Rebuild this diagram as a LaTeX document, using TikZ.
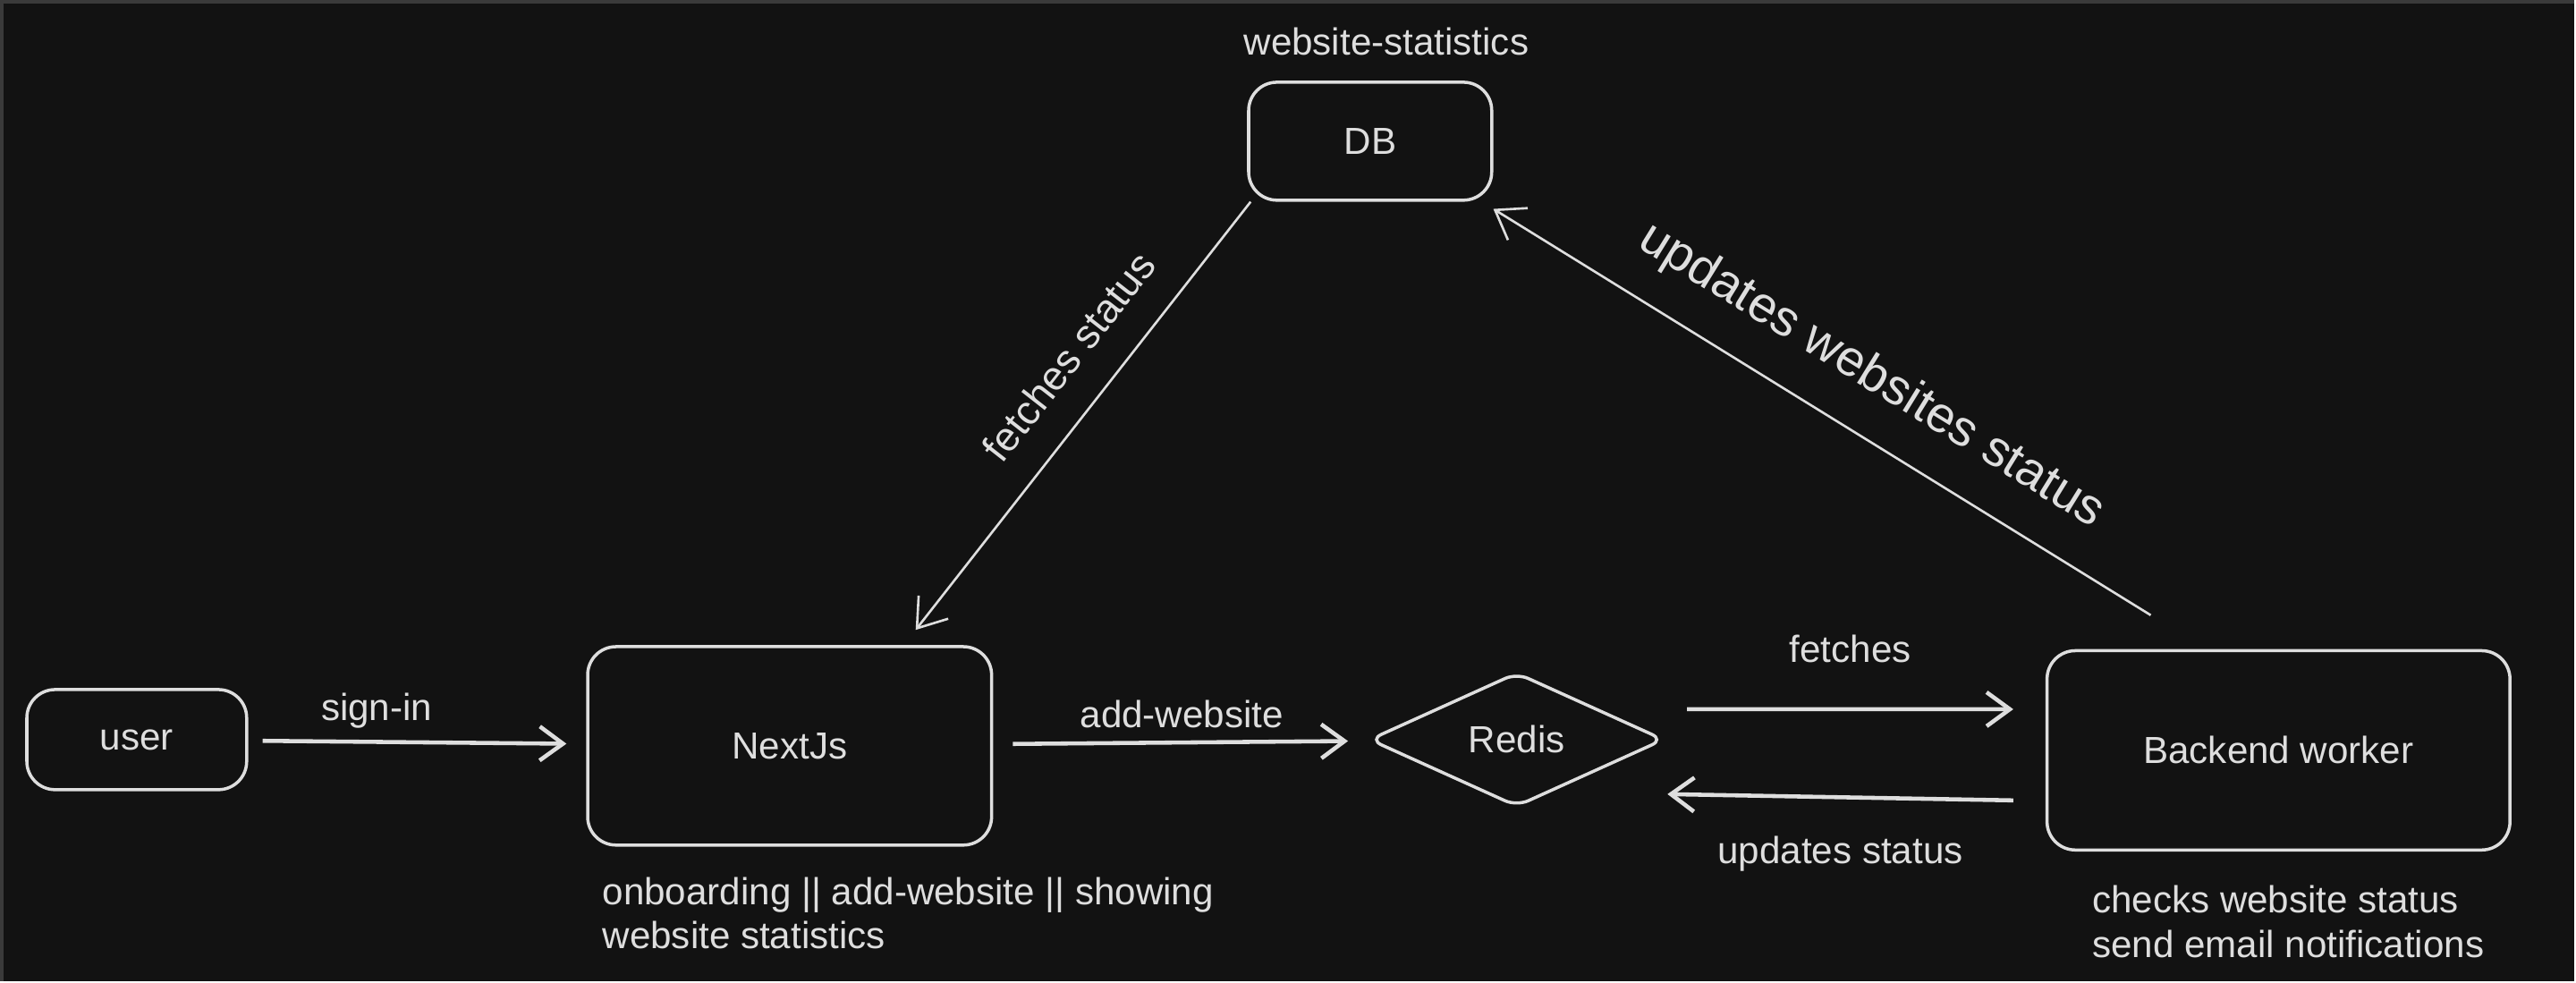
\documentclass[tikz,border=0pt]{standalone}
\usepackage{fontspec}
\setmainfont{Liberation Sans}
\usetikzlibrary{positioning,shapes.geometric,arrows.meta}

\definecolor{bg}{HTML}{121212}
\definecolor{ink}{HTML}{DEDEDE}
\definecolor{edge}{HTML}{3A3A3A}
\newcommand{\lblfont}{\fontsize{12}{14}\selectfont}

\begin{document}
\begin{tikzpicture}[x=0.01cm,y=-0.01cm,
  every node/.style={text=ink,font=\lblfont},
  box/.style={draw=ink,line width=1pt,rounded corners=9pt,inner sep=0pt},
  cache/.style={diamond,draw=ink,line width=1pt,rounded corners=4pt,inner sep=0pt},
  arr/.style={draw=ink,line width=1.3pt,-{Straight Barb[length=0.26cm,width=0.38cm]}},
  slant/.style={draw=ink,line width=0.75pt,-{Straight Barb[length=0.3cm,width=0.42cm]}}]

% canvas
\fill[bg] (0,0) rectangle (2880,1096);
\draw[edge,line width=1.2pt] (0,1096) -- (0,0) -- (2880,0);

\node[box,minimum width=2.46cm,minimum height=1.12cm] (user) at (151,826) {user};
\node[box,minimum width=4.52cm,minimum height=2.22cm] (next) at (882,833) {NextJs};
\node[box,minimum width=2.72cm,minimum height=1.32cm] (db) at (1532,156) {DB};
\node[cache,minimum width=3.3cm,minimum height=1.5cm] (redis) at (1696,826) {Redis};
\node[box,minimum width=5.18cm,minimum height=2.23cm] (worker) at (2549,838) {Backend worker};

\node[above=0.16cm of db.north,xshift=0.18cm] (dbname) {website-statistics};
\node[below right=0.22cm and 0.06cm of next.south west,anchor=north west,align=left] (nextnote)
  {onboarding || add-website || showing\\website statistics};
\node[below right=0.26cm and 0.4cm of worker.south west,anchor=north west,align=left] (workernote)
  {checks website status\\send email notifications};

\draw[arr,shorten <=0.16cm,shorten >=0.22cm] (user) -- node[pos=0.38,above=0.01cm] {sign-in} (next);
\draw[arr,shorten <=0.22cm,shorten >=0.25cm] (next) -- node[midway,above=0.02cm] {add-website} (redis);
\draw[arr] ([xshift=0.24cm,yshift=0.34cm]redis.east) -- node[midway,above=0.38cm] {fetches}
  ([xshift=-0.36cm,yshift=0.46cm]worker.west);
\draw[arr] ([xshift=-0.36cm,yshift=-0.56cm]worker.west) -- node[midway,below=0.3cm] {updates status}
  ([xshift=0.02cm,yshift=-0.61cm]redis.east);

\draw[slant] ([xshift=0.04cm]db.south west) --
  node[pos=0.43,sloped,above=0.24cm,font=\fontsize{13}{15}\selectfont] {fetches status}
  ([xshift=1.41cm,yshift=0.17cm]next.north);
\draw[slant] ([xshift=-1.43cm,yshift=0.38cm]worker.north) --
  node[pos=0.47,sloped,above=0.24cm,font=\fontsize{16}{18}\selectfont] {updates websites status}
  ([yshift=-0.08cm]db.south east);

\end{tikzpicture}
\end{document}
